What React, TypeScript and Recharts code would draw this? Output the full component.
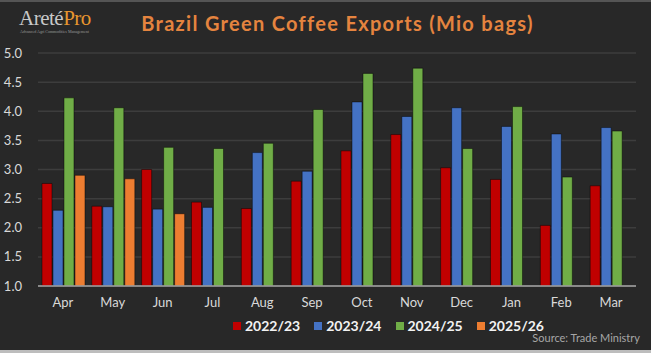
import { Bar, BarChart, CartesianGrid, XAxis, YAxis } from "recharts"

const months = ["Apr", "May", "Jun", "Jul", "Aug", "Sep", "Oct", "Nov", "Dec", "Jan", "Feb", "Mar"]
const crop2223 = [2.76, 2.37, 3.0, 2.44, 2.33, 2.8, 3.32, 3.6, 3.03, 2.83, 2.04, 2.72]
const crop2324 = [2.3, 2.36, 2.32, 2.35, 3.29, 2.97, 4.16, 3.91, 4.06, 3.74, 3.61, 3.72]
const crop2425 = [4.23, 4.06, 3.38, 3.36, 3.45, 4.03, 4.65, 4.74, 3.36, 4.08, 2.87, 3.66]
const crop2526 = [2.9, 2.84, 2.24, null, null, null, null, null, null, null, null, null]
const yTicks = [1.0, 1.5, 2.0, 2.5, 3.0, 3.5, 4.0, 4.5, 5.0]

const seriesNames = ["2022/23", "2023/24", "2024/25", "2025/26"]
const seriesColors = ["#c00000", "#4472c4", "#70ad47", "#ed7d31"]

const data = months.map((m, i) => ({
  month: m,
  s1: crop2223[i],
  s2: crop2324[i],
  s3: crop2425[i],
  s4: crop2526[i],
}))

const font = "Lato, 'Open Sans', sans-serif"

export default function App() {
  return (
    <div style={{ position: "relative", width: 651, height: 353, background: "#282828", fontFamily: font, overflow: "hidden" }}>
      <style>{`body{margin:0}`}</style>
      <div style={{ position: "absolute", left: 0, top: 0, width: 651, height: 2, background: "#555" }} />
      <div style={{ position: "absolute", left: 0, bottom: 0, width: 651, height: 3, background: "#bdbdbd" }} />

      {/* logo */}
      <div style={{ position: "absolute", left: 19, top: 6, fontFamily: "'Liberation Serif', serif", fontSize: 21, lineHeight: "24px", letterSpacing: -0.5 }}>
        <span style={{ color: "#c8c8c8" }}>Areté</span>
        <span style={{ color: "#e8962e" }}>Pro</span>
      </div>
      <div style={{ position: "absolute", left: 20, top: 29, fontFamily: "'Liberation Serif', serif", fontSize: 4, color: "#9a9a9a", whiteSpace: "nowrap" }}>
        Advanced Agri Commodities Management
      </div>

      <div style={{ position: "absolute", left: 0, width: 651, top: 11, textAlign: "center", paddingLeft: 24, boxSizing: "border-box", color: "#e5843f", fontWeight: 700, fontSize: 20, letterSpacing: 1.3 }}>
        Brazil Green Coffee Exports (Mio bags)
      </div>

      <div style={{ position: "absolute", left: 0, top: 0 }}>
        <BarChart
          width={651}
          height={353}
          data={data}
          margin={{ top: 53, right: 15, bottom: 37, left: 0 }}
          barCategoryGap="8%"
          barGap={1}
        >
          <CartesianGrid vertical={false} stroke="#3d3d3d" strokeWidth={1.5} />
          <XAxis
            dataKey="month"
            height={30}
            axisLine={{ stroke: "#a6a6a6", strokeWidth: 1.5 }}
            tickLine={false}
            tick={{ fill: "#d9d9d9", fontSize: 13, fontFamily: font }}
            tickMargin={6}
          />
          <YAxis
            width={38}
            domain={[1, 5]}
            ticks={yTicks}
            tickFormatter={(v) => v.toFixed(1)}
            axisLine={false}
            tickLine={false}
            tick={{ fill: "#d9d9d9", fontSize: 13, fontFamily: font }}
            tickMargin={10}
          />
          {["s1", "s2", "s3", "s4"].map((k, i) => (
            <Bar
              key={k}
              dataKey={k}
              name={seriesNames[i]}
              fill={seriesColors[i]}
              stroke="rgba(0,0,0,0.45)"
              strokeWidth={1}
              isAnimationActive={false}
            />
          ))}
        </BarChart>
      </div>

      {/* legend */}
      <div style={{ position: "absolute", left: 233, top: 317, display: "flex", gap: 14, alignItems: "center" }}>
        {seriesNames.map((n, i) => (
          <div key={n} style={{ display: "flex", alignItems: "center", gap: 4 }}>
            <div style={{ width: 8, height: 8, background: seriesColors[i] }} />
            <span style={{ color: "#f2f2f2", fontWeight: 700, fontSize: 14 }}>{n}</span>
          </div>
        ))}
      </div>
      <div style={{ position: "absolute", right: 11, top: 331, color: "#a6a6a6", fontSize: 11 }}>
        Source: Trade Ministry
      </div>
    </div>
  )
}
